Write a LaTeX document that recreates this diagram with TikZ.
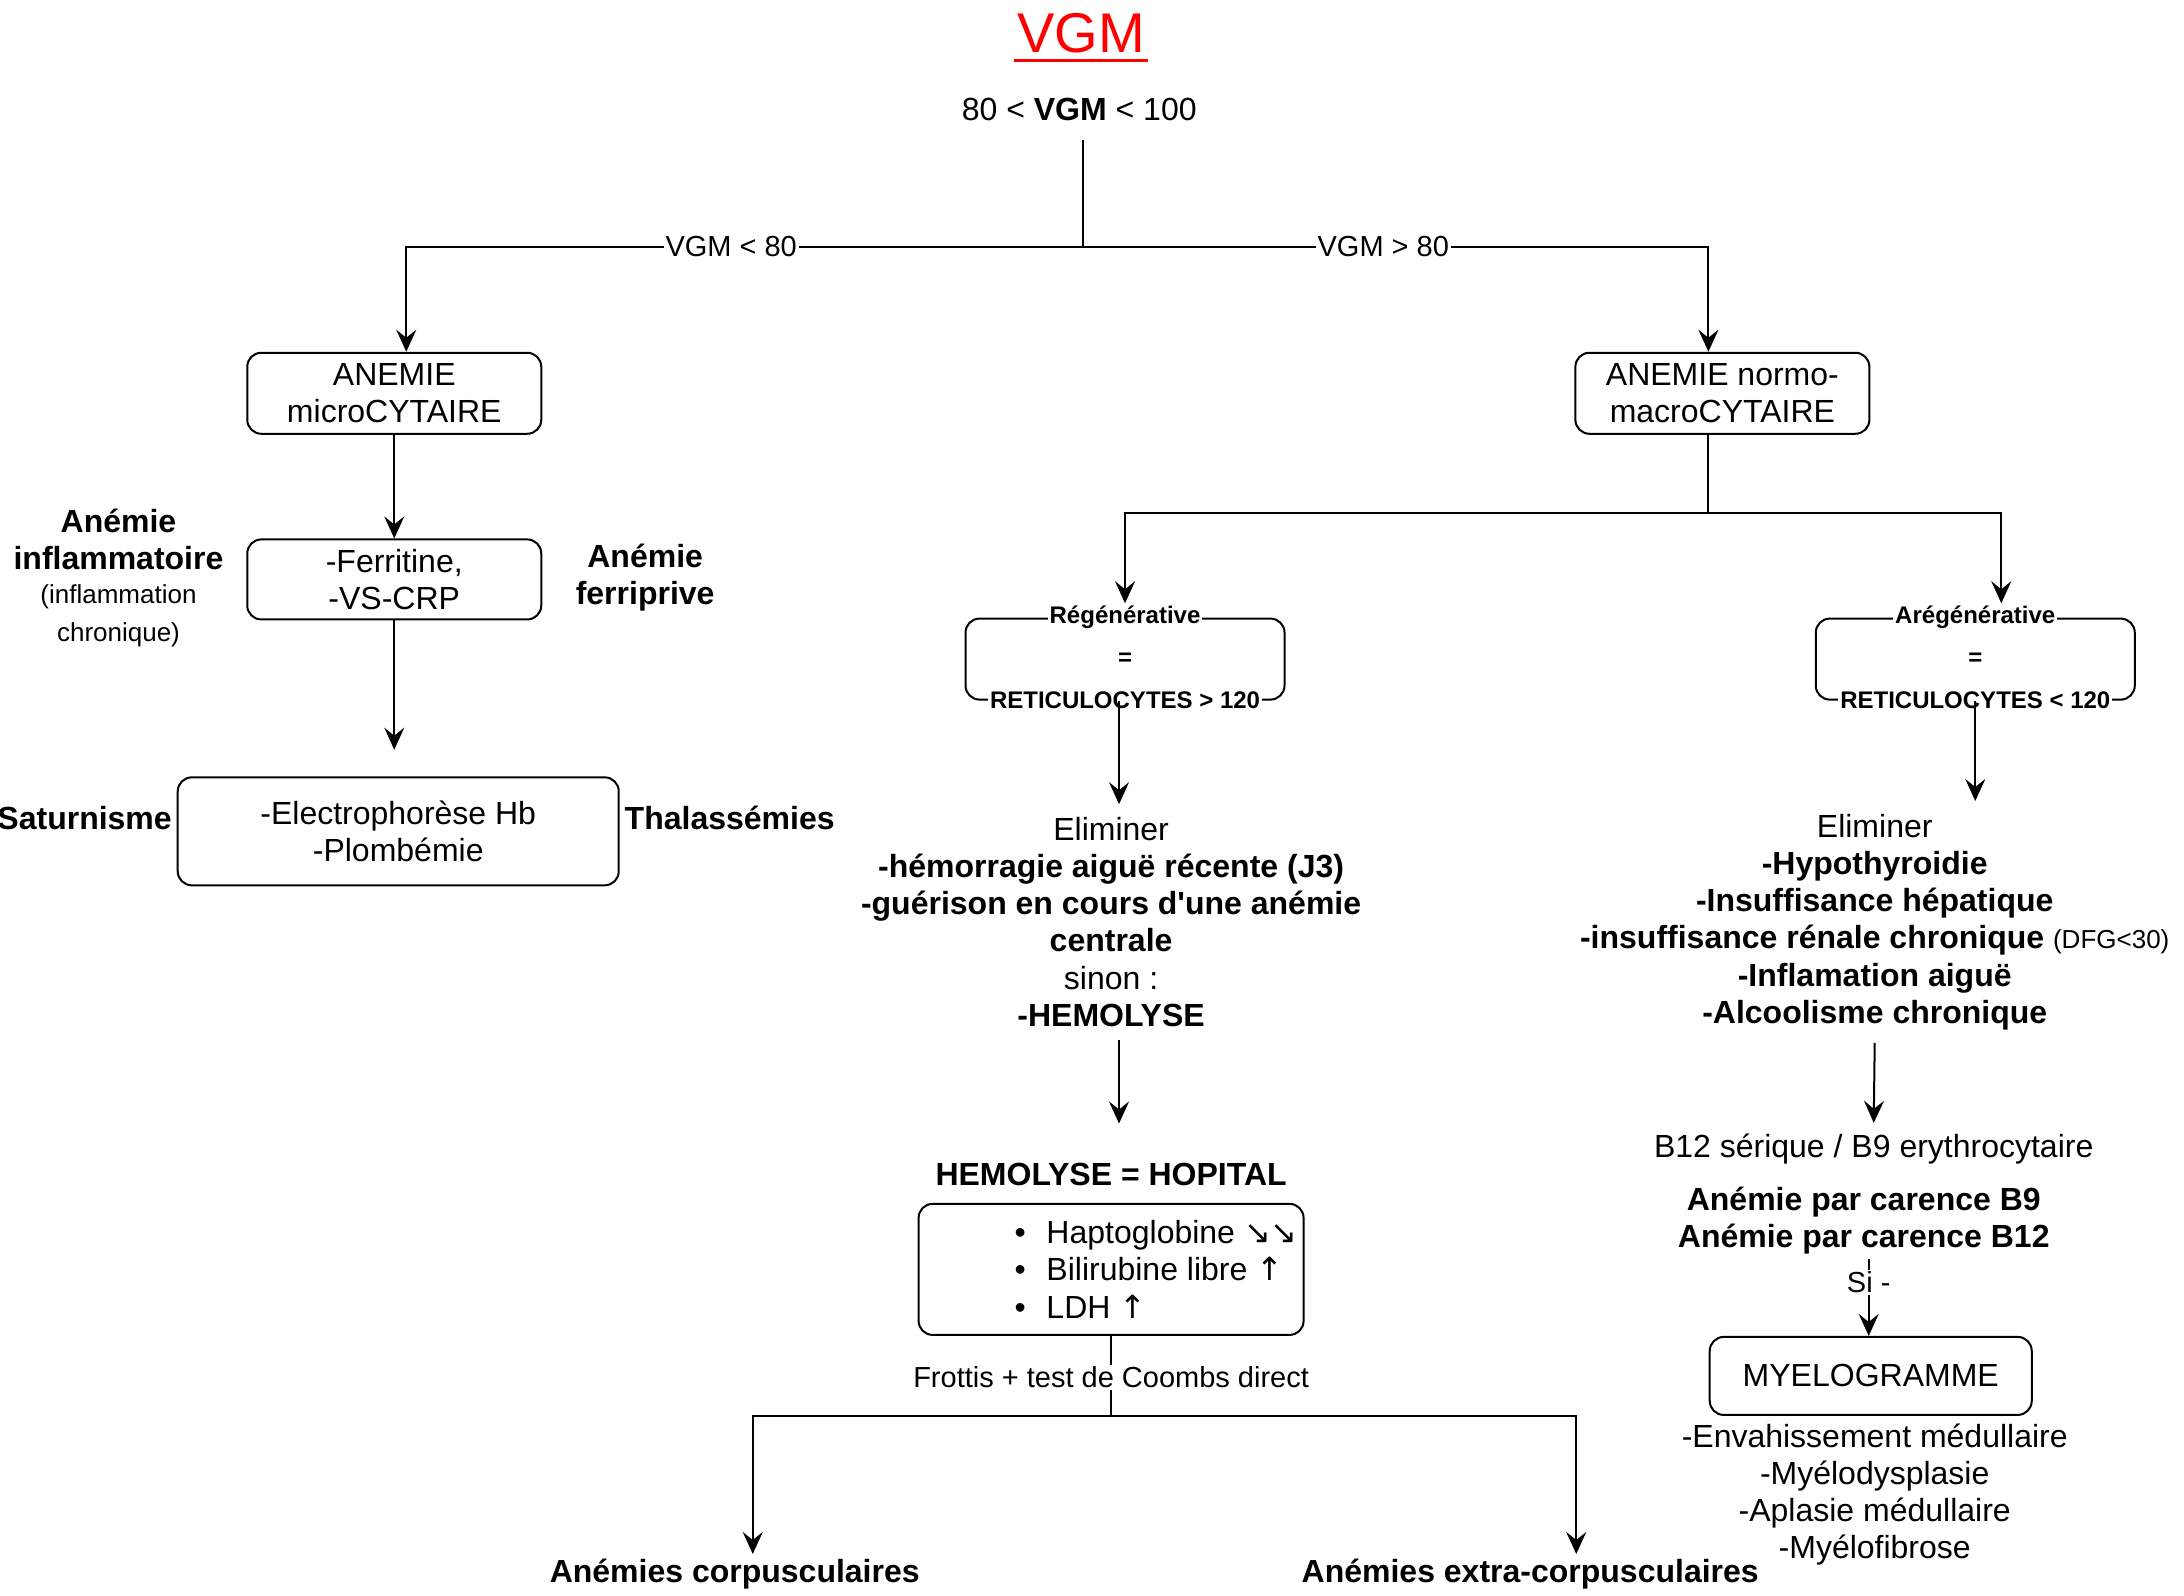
\documentclass[tikz,border=0pt]{standalone}
\usepackage{fontspec}
\setmainfont{Liberation Sans}
\newfontfamily\symfont{DejaVu Sans}
\usetikzlibrary{arrows.meta}

\begin{document}
\begin{tikzpicture}[x=0.4978pt, y=-0.4978pt, line width=1pt,
    every node/.style={font=\fontsize{16}{18.6}\selectfont, align=center, inner sep=2pt},
    box/.style={draw, rounded corners=7pt},
    bld/.style={font=\fontsize{16}{18.6}\selectfont\bfseries},
    lbl/.style={font=\fontsize{14.5}{17}\selectfont, fill=white, inner sep=1pt},
    tag/.style={font=\fontsize{12}{14}\selectfont\bfseries, fill=white, inner sep=1pt},
    arr/.style={-{Stealth[length=11pt, width=10pt, inset=4pt]}}]
    \useasboundingbox (0,0) rectangle (2193.65,1603.05);

    \node [font=\fontsize{28}{33}\selectfont, text=red, inner sep=0, anchor=base] (title) at (1086,53) {VGM};
    \draw [red, line width=1.5pt] ([yshift=-4pt, xshift=-1pt]title.base west) -- ([yshift=-4pt, xshift=1pt]title.base east);
    \node [inner ysep=9pt] (range) at (1084,110) {80 < \textbf{VGM} < 100};
    \coordinate (split) at (1088,248);
    \draw (range.south -| split) -- (split);

    \node [box, minimum width=147pt, minimum height=40.5pt] (micro) at (396,395) {ANEMIE\\microCYTAIRE};
    \node [box, minimum width=147pt, minimum height=40.5pt] (normo) at (1730,395) {ANEMIE normo-\\macroCYTAIRE};
    \draw [arr] (split) -| node [lbl, pos=0.26] {VGM < 80} ([xshift=6pt]micro.north);
    \draw [arr] (split) -| node [lbl, pos=0.24] {VGM > 80} ([xshift=-7pt]normo.north);

    \node [box, minimum width=147pt, minimum height=40pt] (ferri) at (396,582) {-Ferritine,\\-VS-CRP};
    \draw [arr] (micro) -- (ferri);
    \node [bld] (inflam) at (119,542) {Anémie\\inflammatoire};
    \node [font=\fontsize{13}{19}\selectfont] (chron) at (119,618) {(inflammation\\chronique)};
    \node [bld] (ferriprive) at (648,580) {Anémie\\ferriprive};
    \node [box, minimum width=220.5pt, minimum height=54pt] (electro) at (400,835) {-Electrophorèse Hb\\-Plombémie};
    \coordinate (lefttip) at (396,753);
    \draw [arr] (ferri) -- (lefttip);
    \node [bld, anchor=east] (satur) at ([yshift=6.5pt]electro.west) {Saturnisme};
    \node [bld, anchor=west] (thala) at ([yshift=6.5pt]electro.east) {Thalassémies};

    \coordinate (rsplit) at (1716,515);
    \node [box, minimum width=159.5pt, minimum height=40.5pt] (reg) at (1130,662) {};
    \node [tag] (regtop) at (reg.north) {Régénérative};
    \node [tag, fill=none] at (reg.center) {=};
    \node [tag] (regbot) at (reg.south) {RETICULOCYTES > 120};
    \node [box, minimum width=159.5pt, minimum height=40.5pt] (areg) at (1984,662) {};
    \node [tag] (aregtop) at (areg.north) {Arégénérative};
    \node [tag, fill=none] at (areg.center) {=};
    \node [tag] (aregbot) at (areg.south) {RETICULOCYTES < 120};
    \draw (normo.south -| rsplit) -- (rsplit);
    \draw [arr] (rsplit) -| (regtop.north);
    \draw [arr] (rsplit) -| ([xshift=13pt]aregtop.north);

    \node [inner ysep=6pt] (elimL) at (1116,926) {Eliminer\\\textbf{-hémorragie aiguë récente (J3)}\\\textbf{-guérison en cours d\textquotesingle une anémie}\\\textbf{centrale}\\sinon :\\\textbf{-HEMOLYSE}};
    \draw [arr] ([xshift=-3pt]reg.south) -- ([xshift=-3pt]reg.south |- elimL.north);
    \node [bld, outer ysep=18pt] (hemotitle) at (1116,1180) {HEMOLYSE = HOPITAL};
    \draw [arr] ([xshift=-3pt]reg.south |- elimL.south) -- ([xshift=-3pt]reg.south |- hemotitle.north);
    \node [box, minimum width=192.5pt, minimum height=65.5pt] (hemo) at (1116,1275) {};
    \node [align=left, anchor=west, inner sep=0] (hemolist) at (1018,1275) {\makebox[16pt][l]{•}Haptoglobine {\symfont ↘↘}\\\makebox[16pt][l]{•}Bilirubine libre {\symfont ↑}\\\makebox[16pt][l]{•}LDH {\symfont ↑}};
    \coordinate (hsplit) at (1116,1422);
    \draw (hemo) -- node [lbl, pos=0.52] {Frottis + test de Coombs direct} (hsplit);
    \node [bld] (corpus) at (738,1581) {Anémies corpusculaires};
    \node [bld] (extra) at (1537,1581) {Anémies extra-corpusculaires};
    \draw [arr] (hsplit) -| ([xshift=9pt]corpus.north);
    \draw [arr] (hsplit) -| ([xshift=23pt]extra.north);

    \node [inner ysep=6pt] (elimR) at (1883,926) {Eliminer\\\textbf{-Hypothyroidie}\\\textbf{-Insuffisance hépatique}\\\textbf{-insuffisance rénale chronique} {\fontsize{13}{18.6}\selectfont (DFG<30)}\\\textbf{-Inflamation aiguë}\\\textbf{-Alcoolisme chronique}};
    \draw [arr] (areg.south) -- (areg.south |- elimR.north);
    \node [inner ysep=5pt] (b12) at (1882,1154) {B12 sérique / B9 erythrocytaire};
    \draw [arr] (elimR.south) -- (b12.north);
    \node [bld] (carence) at (1872,1226) {Anémie par carence B9\\Anémie par carence B12};
    \node [box, minimum width=161pt, minimum height=39pt] (myelo) at (1879,1382) {MYELOGRAMME};
    \draw [arr] ([xshift=-1pt]carence.south -| myelo.north) -- node [lbl, pos=0.3] {Si -} ([xshift=-1pt]myelo.north);
    \node (myelolist) at (1883,1501) {-Envahissement médullaire\\-Myélodysplasie\\-Aplasie médullaire\\-Myélofibrose};
\end{tikzpicture}
\end{document}
